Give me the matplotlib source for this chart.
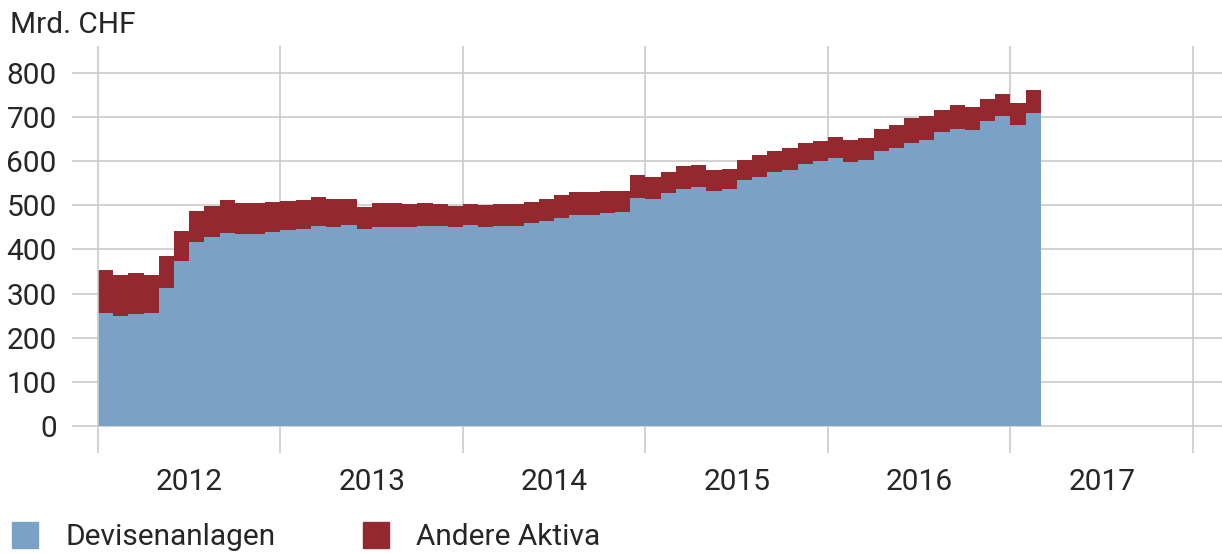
import matplotlib
matplotlib.use("Agg")
import matplotlib.pyplot as plt
from matplotlib.patches import Rectangle
import numpy as np

# Monthly data Jan 2012 - Feb 2017 (Mrd. CHF)
devisenanlagen = [256, 250, 253, 256, 313, 373, 417, 429, 437, 434, 436, 439,
                  443, 447, 453, 451, 456, 447, 451, 451, 451, 454, 454, 451,
                  455, 451, 453, 454, 459, 465, 472, 479, 479, 483, 485, 517,
                  515, 527, 538, 542, 532, 536, 557, 565, 575, 581, 594, 601,
                  607, 597, 602, 623, 630, 642, 648, 665, 673, 670, 690, 703,
                  681, 709]
andere_aktiva = [98, 93, 94, 86, 73, 69, 70, 69, 74, 71, 70, 69,
                 66, 65, 65, 63, 58, 49, 54, 55, 51, 52, 49, 47,
                 49, 49, 49, 50, 49, 50, 52, 50, 50, 49, 47, 52,
                 48, 49, 50, 49, 47, 47, 45, 48, 47, 48, 48, 45,
                 48, 51, 51, 51, 52, 55, 54, 52, 54, 53, 51, 50,
                 50, 52]
start_year = 2012
years = [2012, 2013, 2014, 2015, 2016, 2017]
yticks = [0, 100, 200, 300, 400, 500, 600, 700, 800]
labels = ["Devisenanlagen", "Andere Aktiva"]

BLUE = "#7aa2c7"
RED = "#93282e"
GRID = "#cbcbcb"
TXT = "#262626"
FONT = ["Roboto", "DejaVu Sans"]
FS = 21.5

plt.rcParams['font.family'] = FONT

fig = plt.figure(figsize=(12.22, 5.53), dpi=100)
W, H = 1222, 553
ax = fig.add_axes([72 / W, 1 - 453 / H, 1 - 72 / W, (453 - 46) / H])

n = len(devisenanlagen)
x = start_year + np.arange(n + 1) / 12.0
blue = np.array(devisenanlagen + [devisenanlagen[-1]], dtype=float)
tot = blue + np.array(andere_aktiva + [andere_aktiva[-1]], dtype=float)

ax.fill_between(x, 0, blue, step="post", color=BLUE, linewidth=0, zorder=2)
ax.fill_between(x, blue, tot, step="post", color=RED, linewidth=0, zorder=2)

for yv in yticks:
    ax.axhline(yv, color=GRID, lw=1.2, zorder=1)
for yr in years + [years[-1] + 1]:
    ax.axvline(yr, color=GRID, lw=1.2, zorder=3 if yr == years[0] else 1)

ax.set_xlim(2012 - 26 / 182.5, 2018 + 29 / 182.5)
ax.set_ylim(-61.4, 861)
for s in ax.spines.values():
    s.set_visible(False)

ax.set_yticks(yticks)
ax.set_yticklabels([str(v) for v in yticks])
ax.set_xticks([y + 0.5 for y in years])
ax.set_xticklabels([str(y) for y in years])
ax.tick_params(axis="both", length=0, labelsize=FS, labelcolor=TXT)
ax.tick_params(axis="y", pad=11)
ax.tick_params(axis="x", pad=11)

fig.text(10 / W, 1 - 33 / H, "Mrd. CHF", fontsize=FS, color=TXT,
         ha="left", va="baseline")

# legend
for (x0, lab, col, tx) in [(12, labels[0], BLUE, 66), (363, labels[1], RED, 416)]:
    fig.patches.append(Rectangle((x0 / W, 1 - 548 / H), 26 / W, 26 / H,
                                 transform=fig.transFigure, color=col))
    fig.text(tx / W, 1 - 545 / H, lab, fontsize=FS, color=TXT,
             ha="left", va="baseline")

fig.savefig("out.png", dpi=100)
